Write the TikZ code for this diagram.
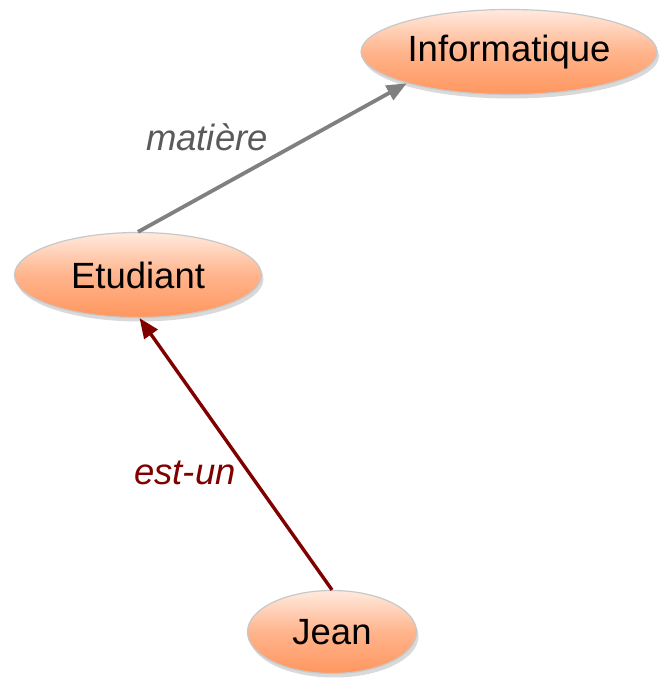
\documentclass[tikz,border=0pt]{standalone}
\usepackage{fontspec}
\setmainfont{Liberation Sans}
\usetikzlibrary{shapes.geometric,shadows,arrows.meta}
\definecolor{peachtop}{RGB}{255,234,222}
\definecolor{peachmid}{RGB}{255,180,140}
\definecolor{peachbot}{RGB}{255,150,95}
\definecolor{rimgray}{RGB}{200,200,200}
\definecolor{arrgray}{RGB}{128,128,128}
\definecolor{lblgray}{RGB}{90,90,90}
\definecolor{darkred}{RGB}{128,0,0}
\tikzset{
  concept/.style={ellipse, draw=rimgray, line width=1.2pt, inner sep=0pt,
    top color=peachtop, bottom color=peachbot, middle color=peachmid,
    drop shadow={shadow xshift=2pt, shadow yshift=-4pt, opacity=0.25, fill=black!60},
    font=\fontsize{36.5}{40}\selectfont},
  rel/.style={line width=3.8pt, -{Triangle[length=20pt,width=16pt]}},
  lbl/.style={font=\fontsize{36.5}{40}\selectfont\itshape}
}
\begin{document}
\begin{tikzpicture}[x=1pt,y=1pt]
\useasboundingbox (0,0) rectangle (658,679);
\node[concept, minimum width=296pt, minimum height=85pt] (inf) at (509,627) {Informatique};
\node[concept, minimum width=247pt, minimum height=85pt] (et) at (138,404) {Etudiant};
\node[concept, minimum width=169pt, minimum height=83pt] (jean) at (332,47) {Jean};
\draw[rel, arrgray] (et.north) -- (inf.197);
\draw[rel, darkred, line width=3.4pt] (jean.north) -- (et.-88);
\node[lbl, text=lblgray] (l1) at (207,542) {matière};
\node[lbl, text=darkred] (l2) at (185,206) {est-un};
\end{tikzpicture}
\end{document}
